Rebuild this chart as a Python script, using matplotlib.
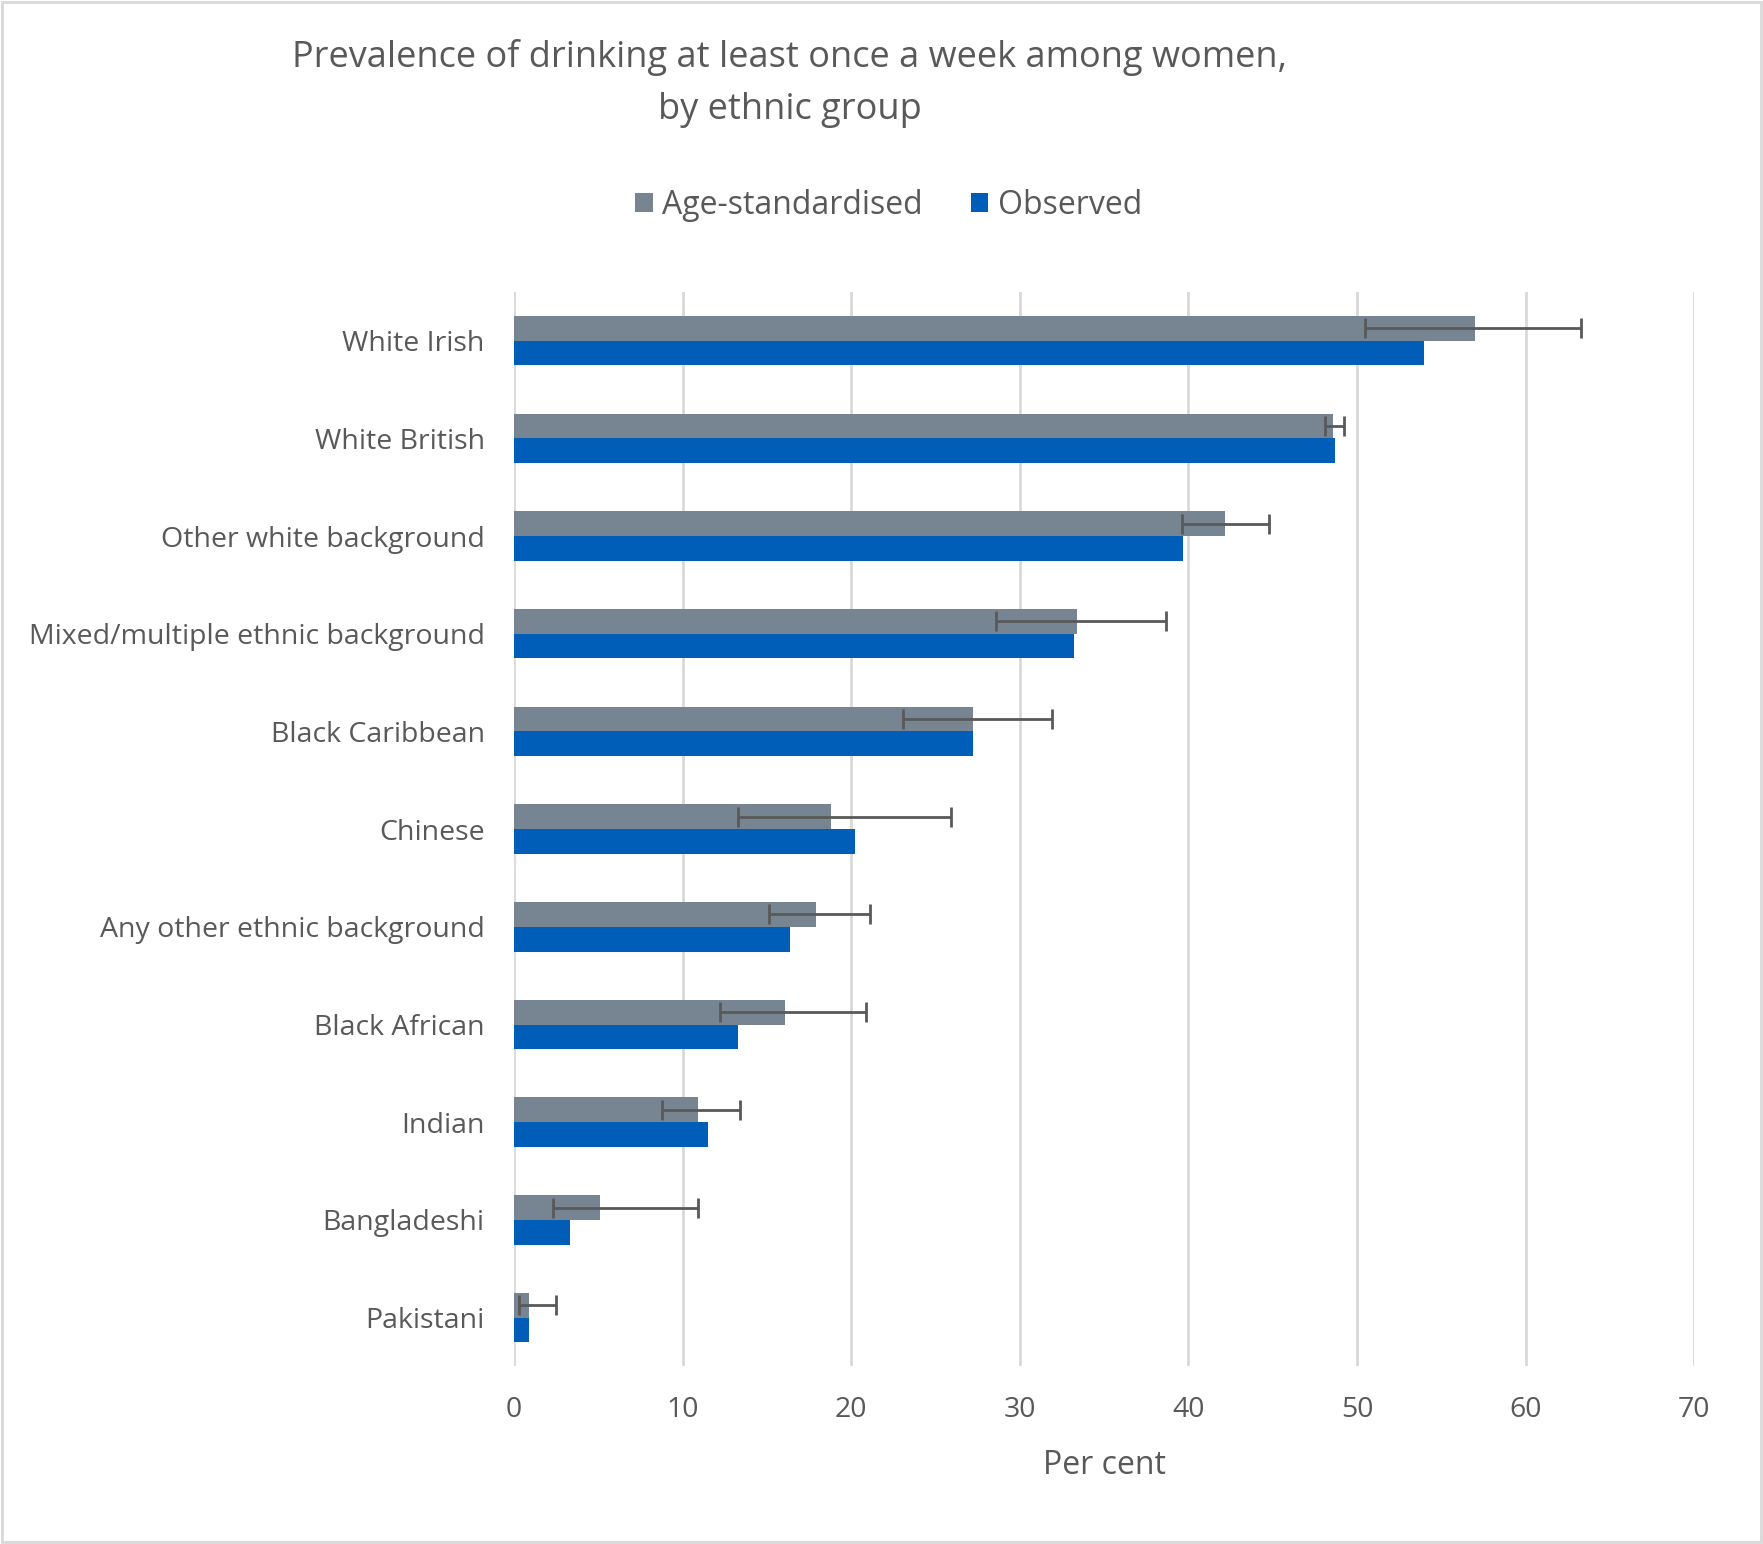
import numpy as np
import matplotlib.pyplot as plt
from matplotlib.patches import Rectangle

plt.rcParams['font.family'] = ['Open Sans', 'DejaVu Sans']

categories = ['White Irish', 'White British', 'Other white background',
              'Mixed/multiple ethnic background', 'Black Caribbean', 'Chinese',
              'Any other ethnic background', 'Black African', 'Indian',
              'Bangladeshi', 'Pakistani']
age_std = [57.0, 48.6, 42.2, 33.4, 27.2, 18.8, 17.9, 16.1, 10.9, 5.1, 0.9]
observed = [54.0, 48.7, 39.7, 33.2, 27.2, 20.2, 16.4, 13.3, 11.5, 3.3, 0.9]
ci_low = [50.5, 48.1, 39.6, 28.6, 23.1, 13.3, 15.1, 12.2, 8.8, 2.3, 0.3]
ci_high = [63.3, 49.2, 44.8, 38.7, 31.9, 25.9, 21.1, 20.9, 13.4, 10.9, 2.5]

grey = '#778592'
blue = '#005EB8'
text_col = '#595959'

fig = plt.figure(figsize=(17.63, 15.44), dpi=100)
ax = fig.add_axes([0.2915, 0.115, 0.6695, 0.696])

y = np.arange(len(categories))
h = 0.253
age_std = np.array(age_std)
err = [age_std - np.array(ci_low), np.array(ci_high) - age_std]

ax.barh(y - h / 2, age_std, height=h, color=grey, label='Age-standardised', zorder=2)
ax.barh(y + h / 2, observed, height=h, color=blue, label='Observed', zorder=2)
ax.errorbar(age_std, y - h / 2, xerr=err, fmt='none', ecolor='#595959',
            elinewidth=2, capsize=7, capthick=2, zorder=3)

ax.set_xlim(0, 70)
ax.set_ylim(len(categories) - 0.5, -0.5)
ax.set_xticks(range(0, 71, 10))
ax.set_yticks(y)
ax.set_yticklabels(categories)
ax.tick_params(axis='both', length=0, labelsize=20.5, colors=text_col)
ax.tick_params(axis='y', pad=21)
ax.tick_params(axis='x', pad=21)
ax.grid(axis='x', color='#d9d9d9', linewidth=2, zorder=0)
for s in ax.spines.values():
    s.set_visible(False)

ax.set_xlabel('Per cent', fontsize=23, color=text_col, labelpad=18)

fig.text(0.448, 0.975, 'Prevalence of drinking at least once a week among women,\nby ethnic group',
         ha='center', va='top', fontsize=26, color=text_col, linespacing=1.62)

fig.legend(loc='center', bbox_to_anchor=(0.504, 0.867), ncol=2, frameon=False,
           fontsize=23, labelcolor=text_col, handlelength=0.55, handleheight=0.55,
           handletextpad=0.3, columnspacing=1.5)

fig.add_artist(Rectangle((0.001, 0.001), 0.998, 0.998, transform=fig.transFigure,
                         fill=False, edgecolor='#d9d9d9', linewidth=2))

fig.savefig('out.png', dpi=100)
